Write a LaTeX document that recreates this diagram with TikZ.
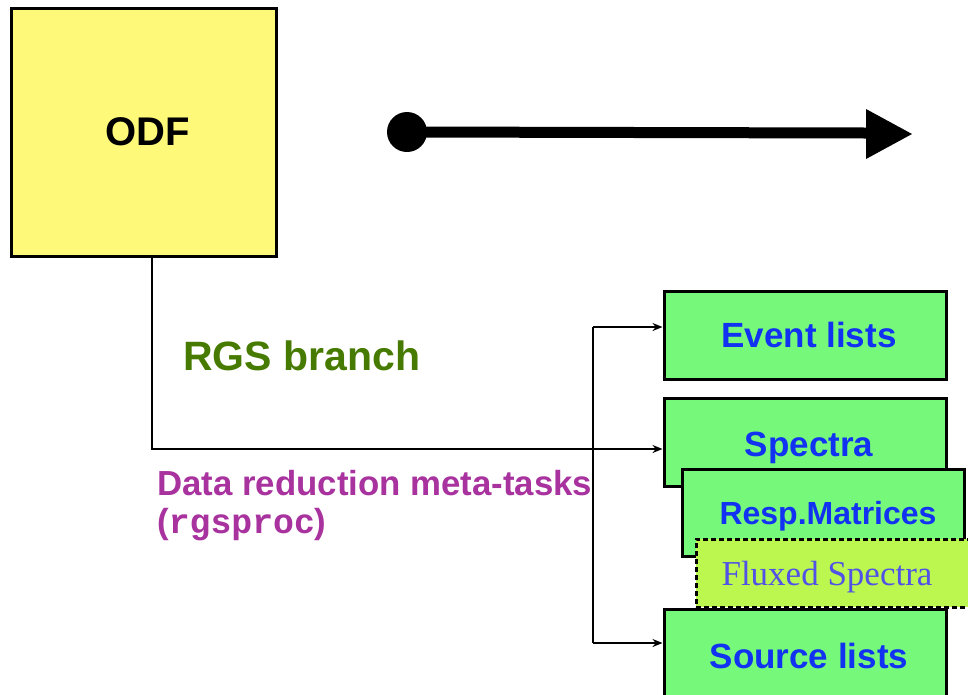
\documentclass[tikz,border=0pt]{standalone}
\usepackage{fontspec}
\setmainfont{Liberation Sans}
\newfontfamily\serifx{Liberation Serif}
\newfontfamily\monox{Liberation Mono}
\usetikzlibrary{arrows.meta}
\definecolor{odfyellow}{HTML}{FFF97A}
\definecolor{boxgreen}{HTML}{76F97A}
\definecolor{fluxgreen}{HTML}{BBF74F}
\definecolor{txtblue}{HTML}{1232F2}
\definecolor{fluxblue}{HTML}{5252E6}
\definecolor{rgsgreen}{HTML}{467A00}
\definecolor{metamag}{HTML}{A8329E}
\tikzset{
  odfbox/.style={draw=black, line width=3pt, fill=odfyellow, minimum width=265pt, minimum height=248pt, inner sep=0pt},
  prodbox/.style={draw=black, line width=3pt, fill=boxgreen, minimum width=282pt, minimum height=88pt, inner sep=0pt,
    text=txtblue, font=\bfseries\fontsize{35}{40}\selectfont, text height=25pt, text depth=0pt},
  fluxbox/.style={draw=black, line width=3pt, dash pattern=on 5pt off 3pt, fill=fluxgreen, minimum width=304pt, minimum height=68pt, inner sep=0pt},
  fluxtext/.style={text=fluxblue, font=\serifx\fontsize{35}{40}\selectfont, inner sep=0pt},
  conn/.style={line width=2.8pt, -{Stealth[length=10pt,width=8pt]}},
  plainconn/.style={line width=2.8pt},
}
\begin{document}
\begin{tikzpicture}[x=1pt,y=-1pt]
\useasboundingbox (0,0) rectangle (968,694);
\clip (0,0) rectangle (968,694);
% ODF
\node[odfbox] (odf) at (143.5,132) {};
\node[font=\bfseries\fontsize{40}{46}\selectfont, inner sep=0pt] (odft) at (148,132) {ODF};
% big arrow
\node[circle, fill=black, minimum size=40pt, inner sep=0pt] (dot) at (407,132) {};
\coordinate (tip) at (866,133);
\draw[line width=11pt] (dot.center) -- (tip);
\fill (866,109) -- (912,134) -- (866,159) -- cycle;
% product boxes
\node[prodbox] (ev) at (805,335) {\hspace*{8pt}Event lists};
\node[prodbox] (sp) at (805,442) {\hspace*{8pt}\raisebox{-1.5pt}{Spectra}};
\node[prodbox, minimum height=87pt, font=\bfseries\fontsize{32}{38}\selectfont, text height=23pt] (rm) at (823,512.5) {\hspace*{10pt}Resp.Matrices};
\node[fluxbox] (fx) at (848,573) {};
\node[fluxtext, anchor=base] (fxt) at (827,585) {Fluxed Spectra};
\node[prodbox, minimum height=90pt] (sl) at (805,654) {\hspace*{8pt}\raisebox{-1.5pt}{Source lists}};
% texts
\node[anchor=base west, inner sep=0pt, text=rgsgreen, font=\bfseries\fontsize{41}{48}\selectfont] (rgs) at (183,370) {RGS branch};
\node[anchor=base west, inner sep=0pt, text=metamag, font=\bfseries\fontsize{34.8}{40}\selectfont] (drm) at (157,495) {Data reduction meta-tasks};
\node[anchor=base west, inner sep=0pt, text=metamag, font=\bfseries\fontsize{34.8}{40}\selectfont] (rgp) at (157,533) {({\monox rgsproc})};
% connectors
\coordinate (odfout) at (152,256);
\coordinate (b1) at (593,327);
\coordinate (b2) at (593,643);
\draw[conn] (odfout) |- (sp.west |- 0,449);
\draw[plainconn] (b1) -- (b2);
\draw[conn] (b1) -- (b1 -| ev.west);
\draw[conn] (b2) -- (b2 -| sl.west);
\end{tikzpicture}
\end{document}
